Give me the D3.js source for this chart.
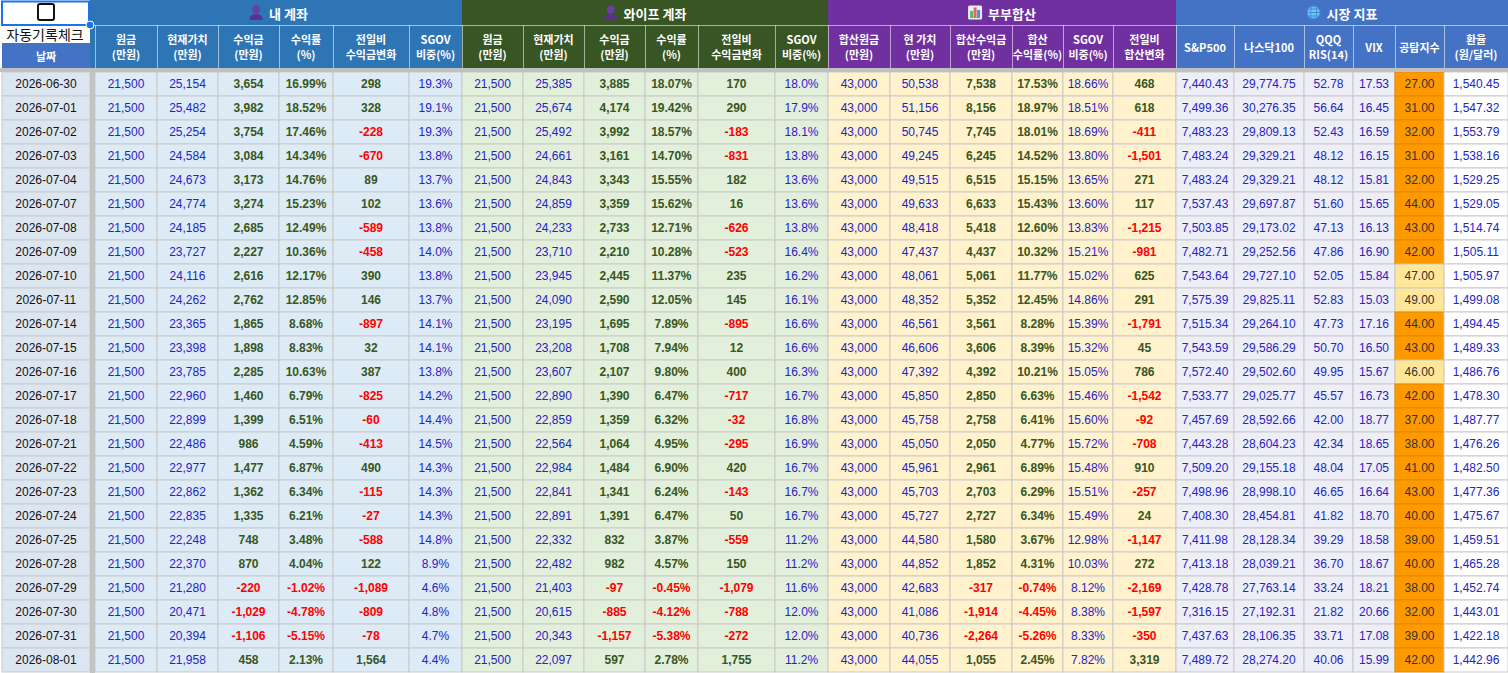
<!DOCTYPE html>
<html>
<head>
<meta charset="utf-8">
<script src="https://cdn.jsdelivr.net/npm/d3@7"></script>
<style>
  html, body { margin: 0; padding: 0; background: #ffffff; overflow: hidden; }
  svg { display: block; }
</style>
</head>
<body>
<div id="sheet"></div>
<script>
// ---- data (read from the sheet) ----
const dates = ['2026-06-30','2026-07-01','2026-07-02','2026-07-03','2026-07-04','2026-07-07','2026-07-08','2026-07-09','2026-07-10','2026-07-11','2026-07-14','2026-07-15','2026-07-16','2026-07-17','2026-07-18','2026-07-21','2026-07-22','2026-07-23','2026-07-24','2026-07-25','2026-07-28','2026-07-29','2026-07-30','2026-07-31','2026-08-01'];

// 내 계좌
const myPrincipal = dates.map(() => 21500);
const myValue   = [25154,25482,25254,24584,24673,24774,24185,23727,24116,24262,23365,23398,23785,22960,22899,22486,22977,22862,22835,22248,22370,21280,20471,20394,21958];
const myProfit  = [3654,3982,3754,3084,3173,3274,2685,2227,2616,2762,1865,1898,2285,1460,1399,986,1477,1362,1335,748,870,-220,-1029,-1106,458];
const myReturn  = [16.99,18.52,17.46,14.34,14.76,15.23,12.49,10.36,12.17,12.85,8.68,8.83,10.63,6.79,6.51,4.59,6.87,6.34,6.21,3.48,4.04,-1.02,-4.78,-5.15,2.13];
const myDaily   = [298,328,-228,-670,89,102,-589,-458,390,146,-897,32,387,-825,-60,-413,490,-115,-27,-588,122,-1089,-809,-78,1564];
const mySgov    = [19.3,19.1,19.3,13.8,13.7,13.6,13.8,14.0,13.8,13.7,14.1,14.1,13.8,14.2,14.4,14.5,14.3,14.3,14.3,14.8,8.9,4.6,4.8,4.7,4.4];

// 와이프 계좌
const wifePrincipal = dates.map(() => 21500);
const wifeValue  = [25385,25674,25492,24661,24843,24859,24233,23710,23945,24090,23195,23208,23607,22890,22859,22564,22984,22841,22891,22332,22482,21403,20615,20343,22097];
const wifeProfit = [3885,4174,3992,3161,3343,3359,2733,2210,2445,2590,1695,1708,2107,1390,1359,1064,1484,1341,1391,832,982,-97,-885,-1157,597];
const wifeReturn = [18.07,19.42,18.57,14.70,15.55,15.62,12.71,10.28,11.37,12.05,7.89,7.94,9.80,6.47,6.32,4.95,6.90,6.24,6.47,3.87,4.57,-0.45,-4.12,-5.38,2.78];
const wifeDaily  = [170,290,-183,-831,182,16,-626,-523,235,145,-895,12,400,-717,-32,-295,420,-143,50,-559,150,-1079,-788,-272,1755];
const wifeSgov   = [18.0,17.9,18.1,13.8,13.6,13.6,13.8,16.4,16.2,16.1,16.6,16.6,16.3,16.7,16.8,16.9,16.7,16.7,16.7,11.2,11.2,11.6,12.0,12.0,11.2];

// 부부합산
const sumPrincipal = dates.map(() => 43000);
const sumValue  = [50538,51156,50745,49245,49515,49633,48418,47437,48061,48352,46561,46606,47392,45850,45758,45050,45961,45703,45727,44580,44852,42683,41086,40736,44055];
const sumProfit = [7538,8156,7745,6245,6515,6633,5418,4437,5061,5352,3561,3606,4392,2850,2758,2050,2961,2703,2727,1580,1852,-317,-1914,-2264,1055];
const sumReturn = [17.53,18.97,18.01,14.52,15.15,15.43,12.60,10.32,11.77,12.45,8.28,8.39,10.21,6.63,6.41,4.77,6.89,6.29,6.34,3.67,4.31,-0.74,-4.45,-5.26,2.45];
const sumSgov   = [18.66,18.51,18.69,13.80,13.65,13.60,13.83,15.21,15.02,14.86,15.39,15.32,15.05,15.46,15.60,15.72,15.48,15.51,15.49,12.98,10.03,8.12,8.38,8.33,7.82];
const sumDaily  = [468,618,-411,-1501,271,117,-1215,-981,625,291,-1791,45,786,-1542,-92,-708,910,-257,24,-1147,272,-2169,-1597,-350,3319];

// 시장 지표
const sp500  = [7440.43,7499.36,7483.23,7483.24,7483.24,7537.43,7503.85,7482.71,7543.64,7575.39,7515.34,7543.59,7572.40,7533.77,7457.69,7443.28,7509.20,7498.96,7408.30,7411.98,7413.18,7428.78,7316.15,7437.63,7489.72];
const ndx100 = [29774.75,30276.35,29809.13,29329.21,29329.21,29697.87,29173.02,29252.56,29727.10,29825.11,29264.10,29586.29,29502.60,29025.77,28592.66,28604.23,29155.18,28998.10,28454.81,28128.34,28039.21,27763.14,27192.31,28106.35,28274.20];
const qqqRsi = [52.78,56.64,52.43,48.12,48.12,51.60,47.13,47.86,52.05,52.83,47.73,50.70,49.95,45.57,42.00,42.34,48.04,46.65,41.82,39.29,36.70,33.24,21.82,33.71,40.06];
const vix    = [17.53,16.45,16.59,16.15,15.81,15.65,16.13,16.90,15.84,15.03,17.16,16.50,15.67,16.73,18.77,18.65,17.05,16.64,18.70,18.58,18.67,18.21,20.66,17.08,15.99];
const fearGreed = [27,31,32,31,32,44,43,42,47,49,44,43,46,42,37,38,41,43,40,39,40,38,32,39,42];
const usdKrw = [1540.45,1547.32,1553.79,1538.16,1529.25,1529.05,1514.74,1505.11,1505.97,1499.08,1494.45,1489.33,1486.76,1478.30,1487.77,1476.26,1482.50,1477.36,1475.67,1459.51,1465.28,1452.74,1443.01,1422.18,1442.96];

// ---- layout / style ----
const W = 1508, H = 673;
const dateColW = 90, gapW = 5;
const colWidths = [62,61,61,54,76,53, 61,61,61,53,77,53, 62,60,62,51,50,63, 58,70,49,42,49,64];
const groupRowH = 25, headRowH = 43, sepH = 4, rowH = 24;
const dataTop = groupRowH + headRowH + sepH;

const NUM_FONT = "'Liberation Sans', Arial, sans-serif";
const KR_FONT = "'Noto Sans CJK KR', 'Noto Sans', sans-serif";

const C = {
  blueText: '#2323c8',
  green: '#375623',
  red: '#ff0000',
  grid: '#c9c9c9',
  sep: '#c0c0c0'
};

const loc = d3.formatLocale({ decimal: '.', thousands: ',', grouping: [3], currency: ['', ''], minus: '-' });
const fInt = loc.format(',d');
const f2 = loc.format(',.2f');
const pct2 = v => loc.format('.2f')(v) + '%';
const pct1 = v => loc.format('.1f')(v) + '%';

// column table built from the arrays above
const groups = [
  { title: '내 계좌', icon: 'person', fill: '#2e75b6', bg: '#ddebf7' },
  { title: '와이프 계좌', icon: 'person', fill: '#375623', bg: '#e2efda' },
  { title: '부부합산', icon: 'chart', fill: '#7030a0', bg: '#fff2cc' },
  { title: '시장 지표', icon: 'globe', fill: '#4472c4', bg: '#eeeef6' }
];

const columns = [
  { g: 0, head: ['원금', '(만원)'], values: myPrincipal, fmt: fInt, kind: 'blue' },
  { g: 0, head: ['현재가치', '(만원)'], values: myValue, fmt: fInt, kind: 'blue' },
  { g: 0, head: ['수익금', '(만원)'], values: myProfit, fmt: fInt, kind: 'sign' },
  { g: 0, head: ['수익률', '(%)'], values: myReturn, fmt: pct2, kind: 'sign' },
  { g: 0, head: ['전일비', '수익금변화'], values: myDaily, fmt: fInt, kind: 'sign' },
  { g: 0, head: ['SGOV', '비중(%)'], values: mySgov, fmt: pct1, kind: 'blue' },
  { g: 1, head: ['원금', '(만원)'], values: wifePrincipal, fmt: fInt, kind: 'blue' },
  { g: 1, head: ['현재가치', '(만원)'], values: wifeValue, fmt: fInt, kind: 'blue' },
  { g: 1, head: ['수익금', '(만원)'], values: wifeProfit, fmt: fInt, kind: 'sign' },
  { g: 1, head: ['수익률', '(%)'], values: wifeReturn, fmt: pct2, kind: 'sign' },
  { g: 1, head: ['전일비', '수익금변화'], values: wifeDaily, fmt: fInt, kind: 'sign' },
  { g: 1, head: ['SGOV', '비중(%)'], values: wifeSgov, fmt: pct1, kind: 'blue' },
  { g: 2, head: ['합산원금', '(만원)'], values: sumPrincipal, fmt: fInt, kind: 'blue' },
  { g: 2, head: ['현 가치', '(만원)'], values: sumValue, fmt: fInt, kind: 'blue' },
  { g: 2, head: ['합산수익금', '(만원)'], values: sumProfit, fmt: fInt, kind: 'sign' },
  { g: 2, head: ['합산', '수익률(%)'], values: sumReturn, fmt: pct2, kind: 'sign' },
  { g: 2, head: ['SGOV', '비중(%)'], values: sumSgov, fmt: pct2, kind: 'blue' },
  { g: 2, head: ['전일비', '합산변화'], values: sumDaily, fmt: fInt, kind: 'sign' },
  { g: 3, head: ['S&P500'], values: sp500, fmt: f2, kind: 'blue' },
  { g: 3, head: ['나스닥100'], values: ndx100, fmt: f2, kind: 'blue' },
  { g: 3, head: ['QQQ', 'RIS(14)'], values: qqqRsi, fmt: f2, kind: 'blue' },
  { g: 3, head: ['VIX'], values: vix, fmt: f2, kind: 'blue' },
  { g: 3, head: ['공탐지수'], values: fearGreed, fmt: f2, kind: 'fear' },
  { g: 3, head: ['환율', '(원/달러)'], values: usdKrw, fmt: f2, kind: 'blue', bg: '#ffffff' }
];

// x edges from widths
let acc = dateColW + gapW;
columns.forEach((c, i) => { c.x = acc; c.w = colWidths[i]; acc += colWidths[i]; });
groups.forEach((g, gi) => {
  const cs = columns.filter(c => c.g === gi);
  g.x0 = cs[0].x; g.x1 = cs[cs.length - 1].x + cs[cs.length - 1].w;
});
groups[0].x0 = dateColW; // header block reaches the gap

const y = d3.scaleBand().domain(dates).range([dataTop, dataTop + rowH * dates.length]);

const fearColor = d3.scaleThreshold().domain([45]).range(['#ff9900', '#ffe699']);

const svg = d3.select('#sheet').append('svg').attr('width', W).attr('height', H);

// ---- data cells ----
const rows = svg.append('g').attr('class', 'rows');

// date column
rows.selectAll('rect.date').data(dates).enter().append('rect')
  .attr('x', 2).attr('y', d => y(d)).attr('width', dateColW - 2).attr('height', y.bandwidth())
  .attr('fill', '#dce6f1').attr('stroke', C.grid).attr('stroke-width', 1);
rows.selectAll('text.date').data(dates).enter().append('text')
  .attr('x', dateColW / 2 + 1).attr('y', d => y(d) + y.bandwidth() / 2)
  .attr('text-anchor', 'middle').attr('dominant-baseline', 'central')
  .style('font-family', NUM_FONT).style('font-size', '12px').attr('fill', '#111')
  .text(d => d);

columns.forEach(col => {
  const cells = col.values.map((v, i) => ({ v, date: dates[i] }));
  const g = rows.append('g');
  g.selectAll('rect').data(cells).enter().append('rect')
    .attr('x', col.x).attr('y', d => y(d.date)).attr('width', col.w).attr('height', y.bandwidth())
    .attr('fill', d => col.kind === 'fear' ? fearColor(d.v) : (col.bg || groups[col.g].bg))
    .attr('stroke', d => col.kind === 'fear' && d.v < 45 ? '#e08a00' : C.grid)
    .attr('stroke-width', 1);
  g.selectAll('text').data(cells).enter().append('text')
    .attr('x', col.x + col.w / 2).attr('y', d => y(d.date) + y.bandwidth() / 2)
    .attr('text-anchor', 'middle').attr('dominant-baseline', 'central')
    .style('font-family', NUM_FONT).style('font-size', '12px')
    .style('font-weight', col.kind === 'sign' ? 'bold' : 'normal')
    .attr('fill', d => col.kind === 'sign' ? (d.v < 0 ? C.red : C.green) : (col.kind === 'fear' ? '#333' : C.blueText))
    .text(d => col.fmt(d.v));
});

// separators
svg.append('rect').attr('x', dateColW).attr('y', groupRowH + headRowH).attr('width', gapW).attr('height', H)
  .attr('fill', '#c3c3c3');
svg.append('rect').attr('x', 0).attr('y', groupRowH + headRowH).attr('width', W).attr('height', sepH)
  .attr('fill', C.sep);

// ---- header ----
const head = svg.append('g').attr('class', 'head');

groups.forEach(g => {
  head.append('rect').attr('x', g.x0).attr('y', 0).attr('width', g.x1 - g.x0).attr('height', groupRowH + headRowH)
    .attr('fill', g.fill);
  head.append('line').attr('x1', g.x0).attr('x2', g.x1).attr('y1', groupRowH + 0.5).attr('y2', groupRowH + 0.5)
    .attr('stroke', 'rgba(255,255,255,0.55)');

  const cx = (g.x0 === dateColW ? g.x0 + gapW : g.x0) + (g.x1 - (g.x0 === dateColW ? g.x0 + gapW : g.x0)) / 2;
  const title = head.append('text')
    .attr('y', 13).attr('dominant-baseline', 'central')
    .style('font-family', KR_FONT).style('font-size', '13px').style('font-weight', 'bold')
    .attr('fill', '#ffffff').text(g.title);
  const tw = title.node().getComputedTextLength();
  const iconW = 14, gap = 6;
  const start = cx - (iconW + gap + tw) / 2;
  title.attr('x', start + iconW + gap);
  drawIcon(head, g.icon, start, 5);
});

columns.forEach(col => {
  head.append('line').attr('x1', col.x + 0.5).attr('x2', col.x + 0.5)
    .attr('y1', groupRowH).attr('y2', groupRowH + headRowH)
    .attr('stroke', 'rgba(255,255,255,0.55)');
  const lines = col.head;
  const yMid = groupRowH + headRowH / 2;
  const ys = lines.length === 1 ? [yMid] : [yMid - 7.5, yMid + 7.5];
  lines.forEach((t, i) => {
    head.append('text')
      .attr('x', col.x + col.w / 2).attr('y', ys[i])
      .attr('text-anchor', 'middle').attr('dominant-baseline', 'central')
      .style('font-family', KR_FONT).style('font-size', '11px').style('font-weight', 'bold')
      .attr('fill', '#ffffff').text(t);
  });
});

// top-left block
const tl = svg.append('g');
tl.append('rect').attr('x', 0).attr('y', 0).attr('width', dateColW).attr('height', groupRowH + 18).attr('fill', '#ffffff');
tl.append('rect').attr('x', 2).attr('y', groupRowH + 18).attr('width', dateColW - 2).attr('height', headRowH - 18)
  .attr('fill', '#4472c4');
tl.append('text').attr('x', dateColW / 2 + 1).attr('y', groupRowH + 18 + (headRowH - 18) / 2)
  .attr('text-anchor', 'middle').attr('dominant-baseline', 'central')
  .style('font-family', KR_FONT).style('font-size', '11px').style('font-weight', 'bold')
  .attr('fill', '#ffffff').text('날짜');
tl.append('text').attr('x', dateColW / 2).attr('y', groupRowH + 9)
  .attr('text-anchor', 'middle').attr('dominant-baseline', 'central')
  .style('font-family', KR_FONT).style('font-size', '14px')
  .attr('fill', '#111').text('자동기록체크');
tl.append('rect').attr('x', 38).attr('y', 4).attr('width', 16).attr('height', 16).attr('rx', 2)
  .attr('fill', '#ffffff').attr('stroke', '#111').attr('stroke-width', 2);
tl.append('rect').attr('x', 2).attr('y', 1.5).attr('width', dateColW - 3).attr('height', groupRowH - 1.5)
  .attr('fill', 'none').attr('stroke', '#1a73e8').attr('stroke-width', 2);
tl.append('circle').attr('cx', dateColW).attr('cy', groupRowH).attr('r', 4)
  .attr('fill', '#1a73e8').attr('stroke', '#ffffff').attr('stroke-width', 1);

function drawIcon(parent, kind, x, yTop) {
  const g = parent.append('g').attr('transform', `translate(${x},${yTop})`);
  if (kind === 'person') {
    g.append('circle').attr('cx', 7).attr('cy', 4.5).attr('r', 4).attr('fill', '#6a3fa5');
    g.append('path').attr('d', 'M0.5,15 Q0.5,9 7,9 Q13.5,9 13.5,15 Z').attr('fill', '#5b2f94');
  } else if (kind === 'chart') {
    g.append('rect').attr('x', 0).attr('y', 0.5).attr('width', 14).attr('height', 14).attr('rx', 1.5)
      .attr('fill', '#e9eef4');
    g.append('rect').attr('x', 2).attr('y', 6).attr('width', 3).attr('height', 7).attr('fill', '#5cb85c');
    g.append('rect').attr('x', 5.5).attr('y', 2.5).attr('width', 3).attr('height', 10.5).attr('fill', '#e06666');
    g.append('rect').attr('x', 9).attr('y', 5).attr('width', 3).attr('height', 8).attr('fill', '#4a90d9');
  } else if (kind === 'globe') {
    g.append('circle').attr('cx', 7).attr('cy', 7.5).attr('r', 6.5).attr('fill', '#7cc0f0').attr('stroke', '#3d8fd6');
    g.append('ellipse').attr('cx', 7).attr('cy', 7.5).attr('rx', 3).attr('ry', 6.5).attr('fill', 'none').attr('stroke', '#3d8fd6');
    g.append('line').attr('x1', 0.5).attr('x2', 13.5).attr('y1', 7.5).attr('y2', 7.5).attr('stroke', '#3d8fd6');
    g.append('line').attr('x1', 1.8).attr('x2', 12.2).attr('y1', 4).attr('y2', 4).attr('stroke', '#3d8fd6');
    g.append('line').attr('x1', 1.8).attr('x2', 12.2).attr('y1', 11).attr('y2', 11).attr('stroke', '#3d8fd6');
  }
}
</script>
</body>
</html>
